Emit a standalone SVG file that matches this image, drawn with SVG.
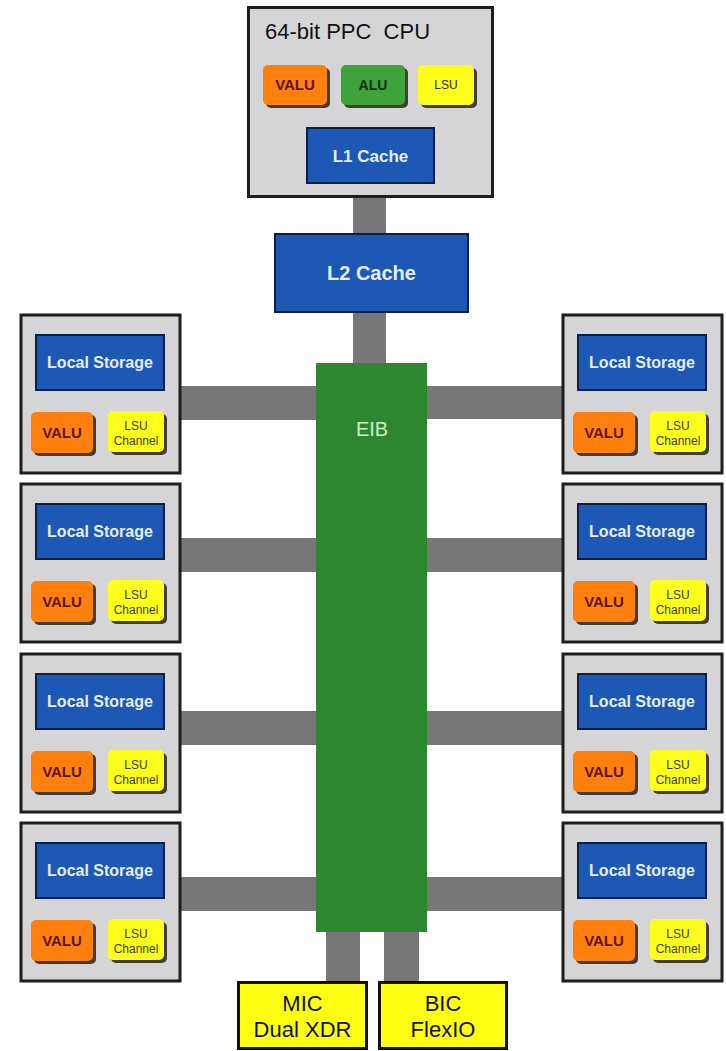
<svg xmlns="http://www.w3.org/2000/svg" width="726" height="1051" viewBox="0 0 726 1051">
<style>
.bg{fill:#ffffff}
.conn{fill:#777777}
.box{fill:#d5d5d8;stroke:#1e1e1e;stroke-width:3}
.blue{fill:#1c58b4;stroke:#0c1f45;stroke-width:2}
.eib{fill:#2c872e}
.orange{fill:#ff800f}
.green{fill:#3ea33a}
.yellow{fill:#ffff1e}
.shadow{fill:#2a2318;opacity:0.85}
.io{fill:#ffff14;stroke:#111;stroke-width:3}
.t{font-family:"Liberation Sans",Arial,sans-serif;text-anchor:middle}
.wt{fill:#e6eeff;font-weight:bold}
.title{font-family:"Liberation Sans",Arial,sans-serif;font-size:22px;fill:#111111}
.valu{fill:#5a1500;font-weight:bold;font-size:15px}
.lsu{fill:#3b3b00;font-size:12px}
.io-t{fill:#111111;font-size:22px}
</style>
<rect class="bg" x="0" y="0" width="726" height="1051"/>

<g id="connectors">
  <rect class="conn" x="353" y="196" width="33" height="39"/>
  <rect class="conn" x="353" y="311" width="33" height="54"/>
  <rect class="conn" x="180" y="386" width="137" height="34"/>
  <rect class="conn" x="426" y="386" width="138" height="33"/>
  <rect class="conn" x="180" y="538" width="137" height="34"/>
  <rect class="conn" x="426" y="538" width="138" height="34"/>
  <rect class="conn" x="180" y="711" width="137" height="34"/>
  <rect class="conn" x="426" y="711" width="138" height="34"/>
  <rect class="conn" x="180" y="877" width="137" height="34"/>
  <rect class="conn" x="426" y="877" width="138" height="34"/>
  <rect class="conn" x="326" y="930" width="34" height="52"/>
  <rect class="conn" x="384" y="930" width="35" height="52"/>
</g>

<g id="cpu">
  <rect class="box" x="248.5" y="7.5" width="244" height="189"/>
  <text class="title" x="265" y="39" xml:space="preserve">64-bit PPC  CPU</text>
  <g id="cpu-valu">
    <rect class="shadow" x="266" y="68" width="64" height="40" rx="5"/>
    <rect class="orange" x="263" y="65" width="64" height="40" rx="5"/>
    <text class="t valu" x="295" y="90" font-size="14">VALU</text>
  </g>
  <g id="cpu-alu">
    <rect class="shadow" x="344" y="68" width="64" height="40" rx="5"/>
    <rect class="green" x="341" y="65" width="64" height="40" rx="5"/>
    <text class="t" x="373" y="90" font-size="14" font-weight="bold" fill="#10300c">ALU</text>
  </g>
  <g id="cpu-lsu">
    <rect class="shadow" x="421" y="68" width="56" height="40" rx="5"/>
    <rect class="yellow" x="418" y="65" width="56" height="40" rx="5"/>
    <text class="t" x="446" y="89" font-size="12" fill="#2a2a00">LSU</text>
  </g>
  <g id="l1">
    <rect class="blue" x="307" y="128" width="127" height="55"/>
    <text class="t wt" x="370.5" y="162" font-size="17">L1 Cache</text>
  </g>
</g>

<g id="l2">
  <rect class="blue" x="275" y="234" width="193" height="78"/>
  <text class="t wt" x="371.5" y="280" font-size="20">L2 Cache</text>
</g>

<g id="eib">
  <rect class="eib" x="316" y="363" width="111" height="569"/>
  <text class="t" x="372" y="436" font-size="20" fill="#c9f2c4">EIB</text>
</g>

<g id="spe-l1" transform="translate(21,315)">
  <rect class="box" x="0" y="0" width="159" height="158"/>
  <rect class="blue" x="15" y="20" width="128" height="55"/>
  <text class="t wt" x="79" y="53" font-size="16">Local Storage</text>
  <rect class="shadow" x="13" y="100" width="62" height="41" rx="5"/>
  <rect class="orange" x="10" y="97" width="62" height="41" rx="5"/>
  <text class="t valu" x="41" y="123">VALU</text>
  <rect class="shadow" x="90" y="99" width="56" height="41" rx="5"/>
  <rect class="yellow" x="87" y="96" width="56" height="41" rx="5"/>
  <text class="t lsu" x="115" y="115">LSU</text>
  <text class="t lsu" x="115" y="130">Channel</text>
</g>
<g id="spe-l2" transform="translate(21,484)">
  <rect class="box" x="0" y="0" width="159" height="158"/>
  <rect class="blue" x="15" y="20" width="128" height="55"/>
  <text class="t wt" x="79" y="53" font-size="16">Local Storage</text>
  <rect class="shadow" x="13" y="100" width="62" height="41" rx="5"/>
  <rect class="orange" x="10" y="97" width="62" height="41" rx="5"/>
  <text class="t valu" x="41" y="123">VALU</text>
  <rect class="shadow" x="90" y="99" width="56" height="41" rx="5"/>
  <rect class="yellow" x="87" y="96" width="56" height="41" rx="5"/>
  <text class="t lsu" x="115" y="115">LSU</text>
  <text class="t lsu" x="115" y="130">Channel</text>
</g>
<g id="spe-l3" transform="translate(21,654)">
  <rect class="box" x="0" y="0" width="159" height="158"/>
  <rect class="blue" x="15" y="20" width="128" height="55"/>
  <text class="t wt" x="79" y="53" font-size="16">Local Storage</text>
  <rect class="shadow" x="13" y="100" width="62" height="41" rx="5"/>
  <rect class="orange" x="10" y="97" width="62" height="41" rx="5"/>
  <text class="t valu" x="41" y="123">VALU</text>
  <rect class="shadow" x="90" y="99" width="56" height="41" rx="5"/>
  <rect class="yellow" x="87" y="96" width="56" height="41" rx="5"/>
  <text class="t lsu" x="115" y="115">LSU</text>
  <text class="t lsu" x="115" y="130">Channel</text>
</g>
<g id="spe-l4" transform="translate(21,823)">
  <rect class="box" x="0" y="0" width="159" height="158"/>
  <rect class="blue" x="15" y="20" width="128" height="55"/>
  <text class="t wt" x="79" y="53" font-size="16">Local Storage</text>
  <rect class="shadow" x="13" y="100" width="62" height="41" rx="5"/>
  <rect class="orange" x="10" y="97" width="62" height="41" rx="5"/>
  <text class="t valu" x="41" y="123">VALU</text>
  <rect class="shadow" x="90" y="99" width="56" height="41" rx="5"/>
  <rect class="yellow" x="87" y="96" width="56" height="41" rx="5"/>
  <text class="t lsu" x="115" y="115">LSU</text>
  <text class="t lsu" x="115" y="130">Channel</text>
</g>

<g id="spe-r1" transform="translate(563,315)">
  <rect class="box" x="0" y="0" width="159" height="158"/>
  <rect class="blue" x="15" y="20" width="128" height="55"/>
  <text class="t wt" x="79" y="53" font-size="16">Local Storage</text>
  <rect class="shadow" x="13" y="100" width="62" height="41" rx="5"/>
  <rect class="orange" x="10" y="97" width="62" height="41" rx="5"/>
  <text class="t valu" x="41" y="123">VALU</text>
  <rect class="shadow" x="90" y="99" width="56" height="41" rx="5"/>
  <rect class="yellow" x="87" y="96" width="56" height="41" rx="5"/>
  <text class="t lsu" x="115" y="115">LSU</text>
  <text class="t lsu" x="115" y="130">Channel</text>
</g>
<g id="spe-r2" transform="translate(563,484)">
  <rect class="box" x="0" y="0" width="159" height="158"/>
  <rect class="blue" x="15" y="20" width="128" height="55"/>
  <text class="t wt" x="79" y="53" font-size="16">Local Storage</text>
  <rect class="shadow" x="13" y="100" width="62" height="41" rx="5"/>
  <rect class="orange" x="10" y="97" width="62" height="41" rx="5"/>
  <text class="t valu" x="41" y="123">VALU</text>
  <rect class="shadow" x="90" y="99" width="56" height="41" rx="5"/>
  <rect class="yellow" x="87" y="96" width="56" height="41" rx="5"/>
  <text class="t lsu" x="115" y="115">LSU</text>
  <text class="t lsu" x="115" y="130">Channel</text>
</g>
<g id="spe-r3" transform="translate(563,654)">
  <rect class="box" x="0" y="0" width="159" height="158"/>
  <rect class="blue" x="15" y="20" width="128" height="55"/>
  <text class="t wt" x="79" y="53" font-size="16">Local Storage</text>
  <rect class="shadow" x="13" y="100" width="62" height="41" rx="5"/>
  <rect class="orange" x="10" y="97" width="62" height="41" rx="5"/>
  <text class="t valu" x="41" y="123">VALU</text>
  <rect class="shadow" x="90" y="99" width="56" height="41" rx="5"/>
  <rect class="yellow" x="87" y="96" width="56" height="41" rx="5"/>
  <text class="t lsu" x="115" y="115">LSU</text>
  <text class="t lsu" x="115" y="130">Channel</text>
</g>
<g id="spe-r4" transform="translate(563,823)">
  <rect class="box" x="0" y="0" width="159" height="158"/>
  <rect class="blue" x="15" y="20" width="128" height="55"/>
  <text class="t wt" x="79" y="53" font-size="16">Local Storage</text>
  <rect class="shadow" x="13" y="100" width="62" height="41" rx="5"/>
  <rect class="orange" x="10" y="97" width="62" height="41" rx="5"/>
  <text class="t valu" x="41" y="123">VALU</text>
  <rect class="shadow" x="90" y="99" width="56" height="41" rx="5"/>
  <rect class="yellow" x="87" y="96" width="56" height="41" rx="5"/>
  <text class="t lsu" x="115" y="115">LSU</text>
  <text class="t lsu" x="115" y="130">Channel</text>
</g>

<g id="mic">
  <rect class="io" x="238.5" y="982.5" width="128" height="66"/>
  <text class="t io-t" x="302.5" y="1011">MIC</text>
  <text class="t io-t" x="302.5" y="1037">Dual XDR</text>
</g>
<g id="bic">
  <rect class="io" x="379.5" y="982.5" width="127" height="66"/>
  <text class="t io-t" x="443" y="1011">BIC</text>
  <text class="t io-t" x="443" y="1037">FlexIO</text>
</g>
</svg>
